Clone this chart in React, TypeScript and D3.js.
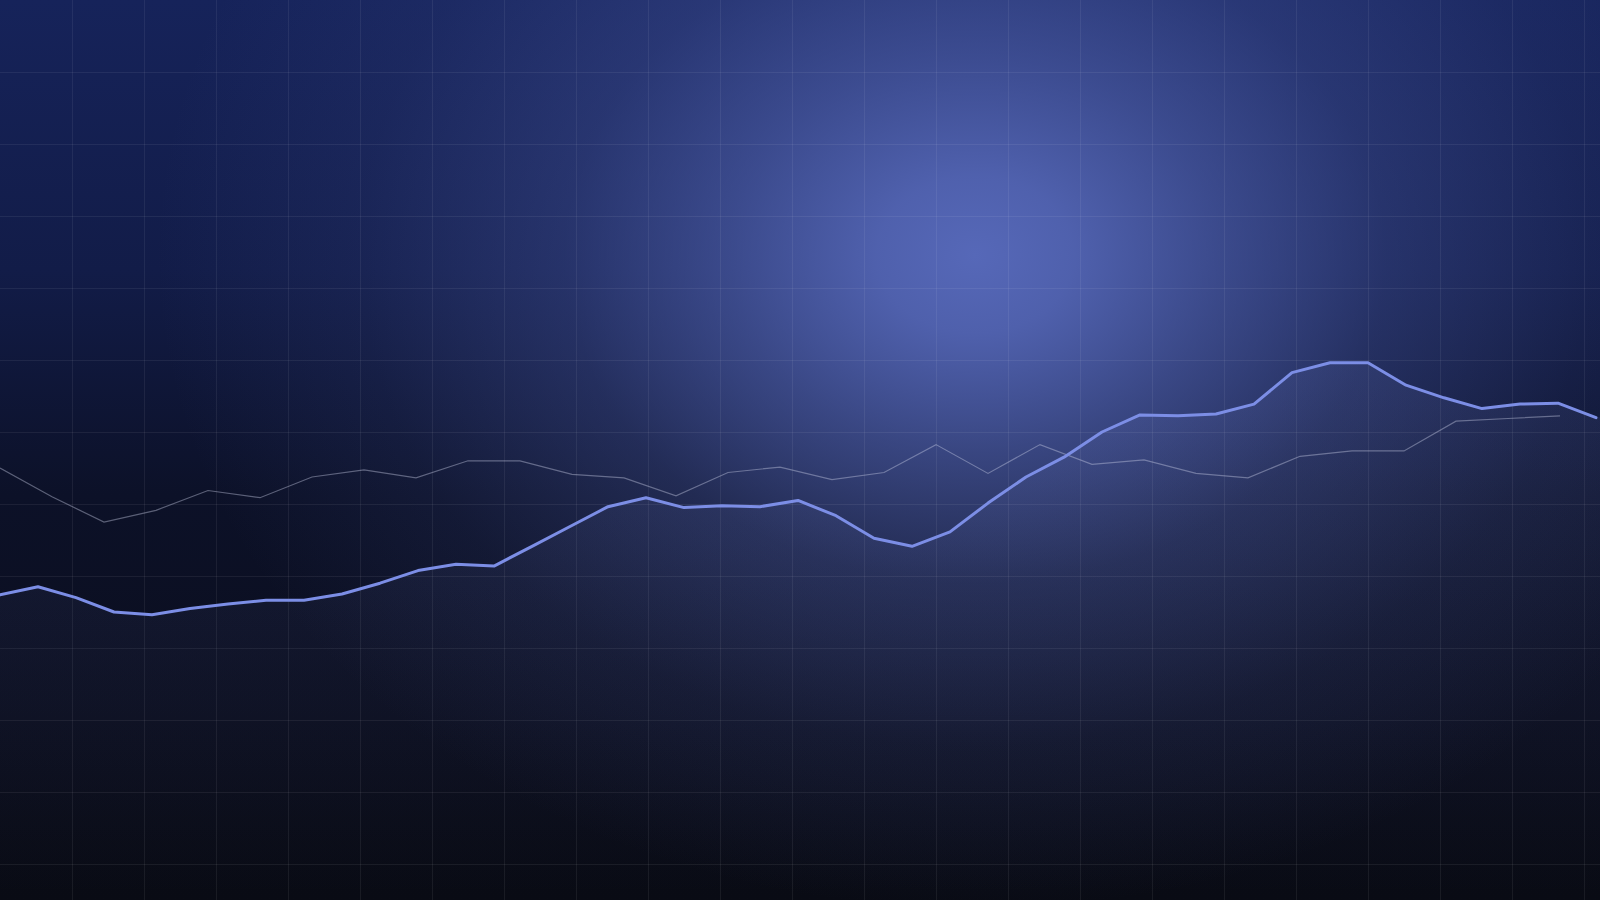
import * as d3 from "d3";
import { useEffect, useRef } from "react";

// main series (thick blue line), one value per step
const mainValues = [
	33.9, 34.8, 33.6, 32.0, 31.7, 32.4, 32.9, 33.3, 33.3, 34.0, 35.2, 36.6, 37.3,
	37.1, 39.3, 41.5, 43.7, 44.7, 43.6, 43.8, 43.7, 44.4, 42.7, 40.2, 39.3, 40.9,
	44.1, 47.0, 49.2, 52.0, 53.9, 53.8, 54.0, 55.1, 58.6, 59.7, 59.7, 57.2, 55.8,
	54.6, 55.1, 55.2, 53.6,
];

// benchmark series (thin grey line)
const benchValues = [
	48.0, 44.8, 42.0, 43.3, 45.5, 44.7, 47.0, 47.8, 46.9, 48.8, 48.8, 47.3, 46.9,
	44.9, 47.5, 48.1, 46.7, 47.5, 50.6, 47.4, 50.6, 48.4, 48.9, 47.4, 46.9, 49.3,
	49.9, 49.9, 53.2, 53.5, 53.8,
];

const width = 1600;
const height = 900;
const gridStep = 72;

function App() {
	const svgRef = useRef<SVGSVGElement>(null);

	useEffect(() => {
		const svg = d3.select(svgRef.current);
		svg.selectAll("*").remove();

		const defs = svg.append("defs");

		const base = defs
			.append("linearGradient")
			.attr("id", "bg-base")
			.attr("x1", 0)
			.attr("y1", 0)
			.attr("x2", 0)
			.attr("y2", 1);
		[
			[0, "#16235a"],
			[0.3, "#121c48"],
			[0.55, "#0c1128"],
			[0.8, "#0b0e1e"],
			[1, "#090b14"],
		].forEach(([o, c]) => base.append("stop").attr("offset", o).attr("stop-color", c));

		const glow = defs
			.append("radialGradient")
			.attr("id", "bg-glow")
			.attr("gradientUnits", "userSpaceOnUse")
			.attr("cx", 975)
			.attr("cy", 255)
			.attr("r", 820)
			.attr("gradientTransform", "translate(975,255) scale(1,0.8) translate(-975,-255)");
		[
			[0, 1],
			[0.12, 0.9],
			[0.3, 0.6],
			[0.5, 0.3],
			[0.75, 0.1],
			[1, 0],
		].forEach(([o, a]) =>
			glow
				.append("stop")
				.attr("offset", o)
				.attr("stop-color", "rgb(86,104,184)")
				.attr("stop-opacity", a)
		);

		const areaFill = defs
			.append("linearGradient")
			.attr("id", "area-fill")
			.attr("gradientUnits", "userSpaceOnUse")
			.attr("x1", 0)
			.attr("y1", 350)
			.attr("x2", 0)
			.attr("y2", height);
		areaFill.append("stop").attr("offset", 0).attr("stop-color", "#8c9cf0").attr("stop-opacity", 0.1);
		areaFill.append("stop").attr("offset", 1).attr("stop-color", "#8c9cf0").attr("stop-opacity", 0);

		svg.append("rect").attr("width", width).attr("height", height).attr("fill", "url(#bg-base)");
		svg.append("rect").attr("width", width).attr("height", height).attr("fill", "url(#bg-glow)");

		const y = d3.scaleLinear().domain([0, 100]).range([height, 0]);
		const xMain = d3
			.scaleLinear()
			.domain([0, mainValues.length - 1])
			.range([0, 1596]);
		const xBench = d3
			.scaleLinear()
			.domain([0, benchValues.length - 1])
			.range([0, 1560]);

		// soft fill under the main line, carried to the right edge
		const last = mainValues.length - 1;
		const area = d3
			.area<number>()
			.x((_, i) => (i === last ? width : xMain(i)))
			.y0(height)
			.y1((d) => y(d));
		svg.append("path").datum(mainValues).attr("d", area).attr("fill", "url(#area-fill)");

		// grid
		const grid = svg.append("g").attr("stroke", "rgba(255,255,255,0.065)").attr("stroke-width", 1);
		d3.range(gridStep, width, gridStep).forEach((gx) =>
			grid.append("line").attr("x1", gx + 0.5).attr("x2", gx + 0.5).attr("y1", 0).attr("y2", height)
		);
		d3.range(gridStep, height, gridStep).forEach((gy) =>
			grid.append("line").attr("y1", gy + 0.5).attr("y2", gy + 0.5).attr("x1", 0).attr("x2", width)
		);

		const benchLine = d3
			.line<number>()
			.x((_, i) => xBench(i))
			.y((d) => y(d));
		svg.append("path")
			.datum(benchValues)
			.attr("d", benchLine)
			.attr("fill", "none")
			.attr("stroke", "rgba(200,204,228,0.42)")
			.attr("stroke-width", 1.2);

		const mainLine = d3
			.line<number>()
			.x((_, i) => xMain(i))
			.y((d) => y(d));
		svg.append("path")
			.datum(mainValues)
			.attr("d", mainLine)
			.attr("fill", "none")
			.attr("stroke", "#7c8ee6")
			.attr("stroke-width", 3)
			.attr("stroke-linejoin", "round")
			.attr("stroke-linecap", "round");
	}, []);

	return (
		<div style={{ position: "fixed", left: 0, top: 0, width, height }}>
			<svg ref={svgRef} width={width} height={height} style={{ display: "block" }} />
		</div>
	);
}

export default App;
